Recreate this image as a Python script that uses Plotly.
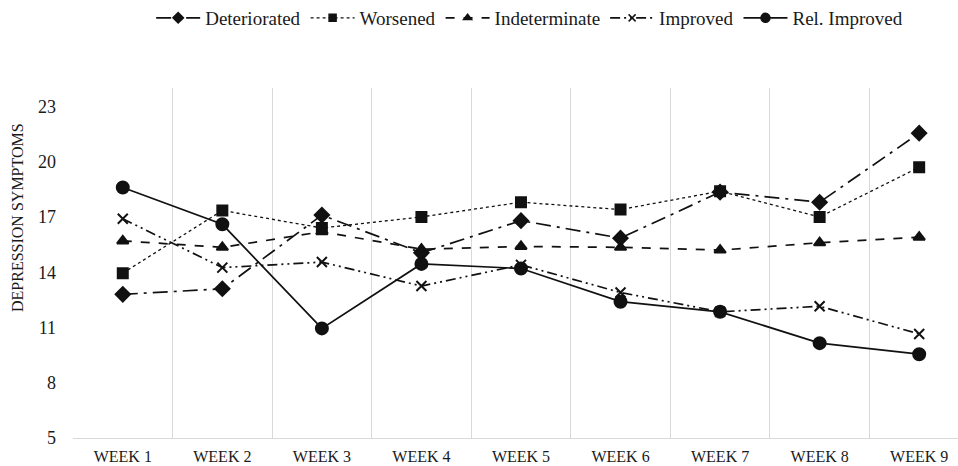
import plotly.graph_objects as go

weeks = ["WEEK 1", "WEEK 2", "WEEK 3", "WEEK 4", "WEEK 5", "WEEK 6", "WEEK 7", "WEEK 8", "WEEK 9"]
deteriorated = [12.8, 13.1, 17.1, 15.05, 16.8, 15.85, 18.35, 17.8, 21.55]
worsened = [13.95, 17.35, 16.4, 17.0, 17.8, 17.4, 18.4, 17.0, 19.7]
indeterminate = [15.7, 15.35, 16.2, 15.25, 15.4, 15.35, 15.2, 15.6, 15.9]
improved = [16.9, 14.25, 14.55, 13.25, 14.4, 12.9, 11.85, 12.15, 10.65]
rel_improved = [18.6, 16.6, 10.95, 14.45, 14.2, 12.4, 11.85, 10.15, 9.55]

y_ticks = [5, 8, 11, 14, 17, 20, 23]

xpos = list(range(len(weeks)))
FONT = "Liberation Serif, Times New Roman, serif"
INK = "#111111"

series = [
    ("Deteriorated", deteriorated, "diamond", 11, "longdashdot", 1.7),
    ("Worsened", worsened, "square", 10, "dot", 1.3),
    ("Indeterminate", indeterminate, "triangle-up", 10, "dash", 1.7),
    ("Improved", improved, "x-thin", 10, "10px,4px,2px,4px,2px,4px", 1.7),
    ("Rel. Improved", rel_improved, "circle", 12, "solid", 1.7),
]

fig = go.Figure()
for name, vals, sym, size, dash, lw in series:
    fig.add_trace(go.Scatter(
        x=xpos, y=vals, name=name, mode="lines+markers", showlegend=False,
        line=dict(color=INK, width=lw, dash=dash),
        marker=dict(symbol=sym, size=size, color=INK,
                    line=dict(color=INK, width=2)),
    ))
# legend entries with smaller sample markers
for name, vals, sym, size, dash, lw in series:
    fig.add_trace(go.Scatter(
        x=[None], y=[None], name=name, mode="lines+markers", showlegend=True,
        line=dict(color=INK, width=lw, dash=dash),
        marker=dict(symbol=sym, size=size - 3, color=INK,
                    line=dict(color=INK, width=1.5)),
    ))

fig.update_layout(
    width=958, height=466,
    margin=dict(l=73, r=0, t=88, b=28, autoexpand=False),
    paper_bgcolor="white", plot_bgcolor="white",
    font=dict(family=FONT, color="#1a1a1a"),
    legend=dict(orientation="h", x=0.516, xanchor="center", y=1.2, yanchor="middle",
                font=dict(size=19, family=FONT, color="#1a1a1a"),
                itemwidth=44, tracegroupgap=0),
    showlegend=True,
    annotations=[dict(text="DEPRESSION SYMPTOMS", textangle=-90,
                      xref="paper", yref="paper", x=-0.062, y=0.629,
                      xanchor="center", yanchor="middle", showarrow=False,
                      font=dict(size=16, family=FONT, color="#1a1a1a"))],
)
fig.update_xaxes(
    range=[-0.5, 8.39], tickvals=xpos, ticktext=weeks,
    showgrid=False, zeroline=False, automargin=False,
    showline=True, linecolor="#d9d9d9", linewidth=1,
    tickfont=dict(size=16, family=FONT, color="#1a1a1a"),
    ticks="", ticklabelstandoff=4,
    minor=dict(tickvals=[i + 0.5 for i in range(-1, 8)], showgrid=True,
               gridcolor="#d9d9d9", gridwidth=1, ticks=""),
)
fig.update_yaxes(
    range=[5, 24], tickvals=y_ticks, showgrid=False, zeroline=False,
    showline=False, automargin=False,
    tickfont=dict(size=18, family=FONT, color="#1a1a1a"),
    ticks="", ticklabelstandoff=16,
)

fig.write_html("out.html", config={"displayModeBar": False},
               post_script="document.body.style.margin='0';")
